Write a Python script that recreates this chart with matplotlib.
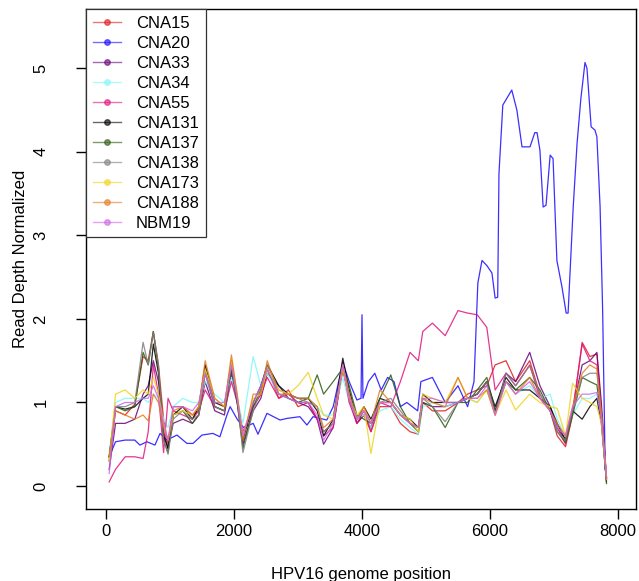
import matplotlib
matplotlib.use("Agg")
import matplotlib.pyplot as plt
from matplotlib.lines import Line2D

plt.rcParams['font.family'] = ['Liberation Sans', 'DejaVu Sans']

# shared genome positions for most samples
pos = [50, 150, 300, 450, 580, 660, 740, 820, 900, 970,
       1050, 1200, 1350, 1450, 1550, 1700, 1850, 1960, 2050, 2140,
       2300, 2420, 2520, 2700, 2850, 3000, 3160, 3300, 3400, 3550,
       3700, 3800, 3920, 4030, 4140, 4280, 4450, 4600, 4750, 4880,
       4950, 5100, 5300, 5500, 5650, 5800, 5950, 6080, 6250, 6400,
       6620, 6780, 6940, 7050, 7180, 7290, 7440, 7560, 7670, 7740, 7820]

cna15 = [0.30, 0.90, 0.85, 0.98, 1.55, 1.50, 1.85, 1.45, 0.80, 0.50,
         0.95, 0.95, 0.85, 0.90, 1.35, 0.95, 0.90, 1.40, 1.05, 0.60,
         0.95, 1.10, 1.40, 1.05, 1.15, 0.95, 1.00, 0.80, 0.65, 0.75,
         1.40, 1.05, 0.75, 0.85, 0.65, 0.95, 0.95, 0.75, 0.65, 0.62,
         1.00, 0.90, 0.90, 1.00, 1.10, 1.15, 1.20, 1.45, 1.50, 1.25,
         1.50, 1.10, 0.90, 0.60, 0.47, 0.85, 1.72, 1.55, 1.58, 0.90, 0.10]

cna33 = [0.20, 0.75, 0.75, 0.80, 1.10, 1.20, 1.50, 1.25, 0.65, 0.45,
         0.75, 0.80, 0.75, 0.85, 1.25, 0.90, 0.85, 1.35, 1.00, 0.50,
         0.90, 1.05, 1.35, 1.20, 1.05, 1.00, 0.95, 0.80, 0.50, 0.70,
         1.40, 1.05, 0.75, 0.85, 0.70, 1.00, 1.00, 0.85, 0.75, 0.70,
         1.00, 0.95, 0.95, 1.00, 1.05, 1.10, 1.25, 0.90, 1.35, 1.25,
         1.60, 1.20, 0.95, 0.70, 0.55, 0.90, 1.45, 1.50, 1.60, 1.00, 0.10]

cna34 = [0.40, 1.00, 1.05, 1.05, 1.05, 1.00, 1.10, 1.05, 0.80, 0.70,
         0.95, 1.05, 1.00, 1.00, 1.25, 1.10, 1.00, 1.30, 1.05, 0.75,
         1.55, 1.20, 1.35, 1.10, 1.05, 1.00, 1.05, 0.95, 0.85, 0.85,
         1.30, 1.00, 0.80, 0.85, 0.70, 0.90, 0.95, 0.80, 0.70, 0.62,
         0.95, 1.00, 0.95, 1.00, 1.05, 1.00, 1.15, 0.85, 1.25, 1.10,
         1.20, 1.05, 1.10, 0.80, 0.60, 0.85, 1.05, 1.05, 1.10, 0.85, 0.10]

cna55 = [0.05, 0.20, 0.35, 0.35, 0.33, 0.65, 1.45, 1.10, 0.40, 1.05,
         0.90, 0.85, 0.80, 0.90, 1.15, 0.95, 0.90, 1.25, 1.00, 0.65,
         0.95, 1.10, 1.30, 1.05, 1.10, 1.00, 1.00, 0.80, 0.60, 0.70,
         1.45, 1.00, 0.75, 0.90, 0.65, 1.00, 0.95, 1.25, 1.60, 1.50,
         1.85, 1.95, 1.80, 2.10, 2.07, 2.05, 1.90, 1.15, 1.35, 1.20,
         1.45, 1.05, 0.90, 0.70, 0.50, 0.90, 1.70, 1.50, 1.45, 0.90, 0.10]

cna131 = [0.35, 0.95, 0.92, 0.95, 1.05, 1.10, 1.70, 1.35, 0.60, 0.45,
          0.85, 0.95, 0.80, 0.95, 1.45, 1.00, 0.95, 1.50, 1.05, 0.55,
          1.00, 1.20, 1.45, 1.20, 1.10, 1.05, 1.05, 0.90, 0.60, 0.80,
          1.53, 1.15, 0.80, 0.95, 0.80, 1.05, 1.00, 0.85, 0.80, 0.70,
          1.10, 1.00, 1.00, 1.00, 1.05, 1.10, 1.25, 0.95, 1.30, 1.15,
          1.15, 1.05, 0.95, 0.75, 0.55, 0.90, 0.80, 0.95, 1.05, 0.75, 0.05]

cna137 = [0.35, 0.95, 0.90, 0.95, 1.60, 1.45, 1.85, 1.40, 0.55, 0.40,
          0.85, 0.90, 0.75, 0.85, 1.40, 0.95, 0.90, 1.40, 1.00, 0.45,
          0.95, 1.15, 1.40, 1.10, 1.05, 1.00, 1.05, 1.33, 1.10, 1.25,
          1.41, 1.20, 0.85, 0.80, 0.75, 1.05, 1.33, 0.95, 0.75, 0.65,
          1.00, 0.95, 0.70, 1.00, 1.00, 1.15, 1.30, 0.90, 1.25, 1.15,
          1.30, 1.15, 0.90, 0.65, 0.52, 0.85, 1.30, 1.25, 1.21, 0.80, 0.03]

cna138 = [0.30, 0.95, 0.95, 1.00, 1.72, 1.45, 1.84, 1.45, 0.55, 0.38,
          0.80, 0.90, 0.80, 0.85, 1.35, 0.95, 0.90, 1.45, 1.05, 0.40,
          0.90, 1.15, 1.45, 1.15, 1.10, 1.05, 1.00, 0.95, 0.65, 0.75,
          1.45, 1.10, 0.80, 0.90, 0.75, 1.00, 1.05, 0.90, 0.75, 0.70,
          1.05, 0.95, 0.77, 1.00, 1.05, 1.10, 1.25, 0.85, 1.35, 1.20,
          1.44, 1.10, 0.90, 0.65, 0.55, 0.90, 1.30, 1.35, 1.35, 0.85, 0.08]

cna173 = [0.30, 1.10, 1.15, 1.05, 1.15, 1.10, 1.30, 1.10, 0.75, 0.55,
          0.85, 0.90, 0.85, 0.95, 1.40, 1.05, 0.95, 1.50, 1.10, 0.60,
          1.05, 1.10, 1.40, 1.15, 1.10, 1.20, 1.36, 1.05, 0.85, 0.80,
          1.40, 1.05, 0.85, 0.95, 0.39, 1.00, 1.00, 0.85, 0.80, 0.65,
          1.10, 1.05, 1.00, 1.30, 1.05, 1.00, 1.15, 0.85, 1.15, 0.91,
          1.10, 1.00, 0.95, 0.93, 0.60, 1.23, 1.05, 1.00, 0.95, 0.75, 0.10]

cna188 = [0.35, 0.90, 0.85, 0.80, 0.85, 0.78, 1.10, 1.00, 0.70, 0.55,
          0.90, 0.95, 0.85, 0.95, 1.50, 1.05, 0.95, 1.57, 1.10, 0.55,
          1.10, 1.10, 1.50, 1.10, 1.10, 1.05, 1.05, 0.95, 0.70, 0.80,
          1.45, 1.10, 0.80, 0.95, 0.75, 1.15, 1.00, 0.85, 0.75, 0.70,
          1.05, 1.00, 0.95, 1.30, 1.05, 1.05, 1.15, 0.85, 1.25, 1.10,
          1.30, 1.05, 0.90, 0.75, 0.60, 0.95, 1.35, 1.45, 1.40, 0.85, 0.08]

nbm19 = [0.15, 0.95, 1.00, 1.00, 1.05, 1.05, 1.20, 1.05, 0.75, 0.55,
         0.95, 0.95, 0.90, 1.00, 1.35, 1.00, 1.00, 1.45, 1.05, 0.60,
         1.00, 1.20, 1.40, 1.10, 1.05, 1.00, 1.00, 0.85, 0.55, 0.75,
         1.45, 1.05, 0.80, 0.90, 0.75, 1.00, 1.00, 0.85, 0.75, 0.70,
         1.05, 1.05, 1.00, 1.00, 1.05, 1.05, 1.20, 0.85, 1.25, 1.10,
         1.25, 1.05, 0.90, 0.70, 0.60, 0.95, 1.10, 1.10, 1.12, 0.80, 0.10]

# CNA20 has its own, denser positions (spike + amplified region)
pos20 = [50, 150, 300, 450, 530, 640, 765, 845, 950, 1110,
         1265, 1360, 1500, 1670, 1780, 1890, 1940, 2050, 2150, 2300,
         2375, 2515, 2720, 2830, 3030, 3140, 3235, 3450, 3550, 3700,
         3800, 3920, 3985, 4000, 4015, 4100, 4200, 4300, 4400, 4500,
         4600, 4700, 4870, 4920, 5100, 5300, 5500, 5650, 5750, 5810,
         5875, 5950, 6030, 6080, 6120, 6140, 6200, 6340, 6420, 6500,
         6625, 6700, 6735, 6780, 6830, 6875, 6940, 6985, 7045, 7125,
         7190, 7220, 7300, 7360, 7420, 7484, 7515, 7580, 7640, 7670,
         7720, 7760, 7800]
cna20 = [0.35, 0.53, 0.55, 0.55, 0.49, 0.53, 0.49, 0.63, 0.55, 0.61,
         0.51, 0.51, 0.61, 0.63, 0.59, 0.85, 0.95, 0.80, 0.70, 0.75,
         0.62, 0.87, 0.79, 0.81, 0.83, 0.73, 0.83, 0.79, 0.95, 1.48,
         1.25, 1.03, 1.05, 2.05, 1.05, 1.25, 1.35, 1.15, 1.30, 1.25,
         0.95, 1.00, 0.90, 1.25, 1.30, 1.00, 1.20, 0.95, 1.25, 2.43,
         2.70, 2.64, 2.55, 2.25, 2.26, 3.74, 4.56, 4.74, 4.50, 4.06,
         4.06, 4.23, 4.23, 4.02, 3.34, 3.36, 3.96, 3.92, 2.70, 2.38,
         2.07, 2.07, 3.34, 4.10, 4.64, 5.07, 5.00, 4.30, 4.26, 4.18,
         3.34, 2.10, 0.20]

names = ["CNA15", "CNA20", "CNA33", "CNA34", "CNA55", "CNA131",
         "CNA137", "CNA138", "CNA173", "CNA188", "NBM19"]
colors = ["#e01a1a", "#1a0aff", "#66037a", "#7ff7f7", "#e0147f", "#000000",
          "#2b5a10", "#808080", "#f2d21e", "#e57a1e", "#d066e8"]
series = [(pos, cna15), (pos20, cna20), (pos, cna33), (pos, cna34), (pos, cna55),
          (pos, cna131), (pos, cna137), (pos, cna138), (pos, cna173), (pos, cna188),
          (pos, nbm19)]

fig = plt.figure(figsize=(6.39, 5.81), dpi=100)
ax = fig.add_axes([86/639, 1 - 509/581, 550/639, 500/581])

for (xs, ys), c in zip(series, colors):
    ax.plot(xs, ys, color=c, lw=0.9, alpha=0.85)

ax.set_xlim(-312, 8281)
ax.set_ylim(-0.275, 5.71)
ax.set_xticks([0, 2000, 4000, 6000, 8000])
ax.set_yticks([0, 1, 2, 3, 4, 5])
ax.tick_params(direction='out', length=7, width=1, labelsize=12)
ax.tick_params(axis='x', pad=4)
ax.tick_params(axis='y', pad=20)
for lab in ax.get_yticklabels():
    lab.set_rotation(90)
    lab.set_va('center')
for s in ax.spines.values():
    s.set_linewidth(1.0)

ax.set_xlabel("HPV16 genome position", fontsize=12, labelpad=20)
ax.set_ylabel("Read Depth Normalized", fontsize=12, labelpad=4)

handles = [Line2D([], [], color=c, lw=1, alpha=0.6, marker='o', markersize=4,
                  markerfacecolor=c, markeredgecolor=c) for c in colors]
leg = ax.legend(handles, names, loc='upper left', fontsize=12, borderaxespad=0,
                fancybox=False, framealpha=1, edgecolor='#333333',
                handlelength=1.7, handletextpad=0.9, labelspacing=0.3,
                borderpad=0.4)
leg.get_frame().set_linewidth(0.9)

fig.savefig("out.png", dpi=100)
